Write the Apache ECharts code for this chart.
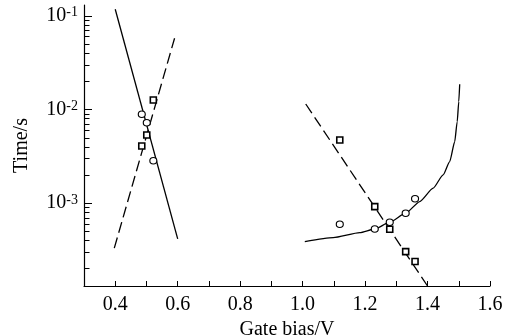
<!DOCTYPE html>
<html>
<head>
<meta charset="utf-8">
<script src="https://cdn.jsdelivr.net/npm/echarts@6/dist/echarts.min.js"></script>
<style>
  html, body { margin: 0; padding: 0; background: #fff; }
  #chart { width: 513px; height: 336px; }
</style>
</head>
<body>
<div id="chart"></div>
<script>
// axis ranges
var xMin = 0.3, xMax = 1.6, xStep = 0.1
var yMin = 1.3e-4, yMax = 0.13

// log axis tick values
var majorTicks = [1e-3, 1e-2, 1e-1]
var minorTicks = [
  2e-4, 3e-4, 4e-4, 5e-4, 6e-4, 7e-4, 8e-4, 9e-4,
  2e-3, 3e-3, 4e-3, 5e-3, 6e-3, 7e-3, 8e-3, 9e-3,
  2e-2, 3e-2, 4e-2, 5e-2, 6e-2, 7e-2, 8e-2, 9e-2
]

// left group (around 0.5 V)
var leftSolidLine = [[0.4, 0.117], [0.6, 4.14e-4]]
var leftDashedLine = [[0.397, 3.3e-4], [0.59, 0.0574]]
var leftCircles = [[0.485, 8.87e-3], [0.501, 7.2e-3], [0.522, 2.83e-3]]
var leftSquares = [[0.522, 0.0126], [0.501, 5.33e-3], [0.485, 4.06e-3]]

// right group (around 1.3 V)
var rightSolidLine = [
  [1.007, 3.87e-4], [1.098, 4.27e-4], [1.183, 4.83e-4], [1.231, 5.28e-4],
  [1.279, 6.24e-4], [1.33, 7.78e-4], [1.375, 1.035e-3], [1.418, 1.44e-3],
  [1.45, 2.0e-3], [1.471, 2.77e-3], [1.487, 4.52e-3], [1.495, 7.4e-3],
  [1.5, 0.0121], [1.503, 0.0185]
]
var rightDashedLine = [[1.01, 0.0114], [1.4, 1.3e-4]]
var rightCircles = [[1.119, 5.94e-4], [1.231, 5.28e-4], [1.279, 6.24e-4], [1.33, 7.78e-4], [1.36, 1.11e-3]]
var rightSquares = [[1.119, 4.71e-3], [1.231, 9.14e-4], [1.279, 5.25e-4], [1.33, 3.03e-4], [1.36, 2.37e-4]]

var font = "Liberation Serif"

function lineSeries(data, dashed, smooth) {
  return {
    type: "line",
    data: data,
    showSymbol: false,
    symbol: "none",
    smooth: smooth || false,
    smoothMonotone: "x",
    clip: false,
    silent: true,
    z: 2,
    lineStyle: { color: "#000", width: 1.3, type: dashed ? [11, 5] : "solid" }
  }
}

function markerSeries(data, shape, size) {
  return {
    type: "scatter",
    data: data,
    symbol: shape,
    symbolSize: size,
    silent: true,
    z: 5,
    itemStyle: { color: "#fff", borderColor: "#000", borderWidth: shape === "rect" ? 1.6 : 1.1, opacity: 1 }
  }
}

var chart = echarts.init(document.getElementById("chart"), null, { renderer: "canvas" })

chart.setOption({
  animation: false,
  backgroundColor: "#fff",
  grid: { left: 84, right: 23, top: 5, bottom: 50, containLabel: false, outerBoundsMode: "none" },
  xAxis: {
    type: "value",
    min: xMin,
    max: xMax,
    interval: xStep,
    name: "Gate bias/V",
    nameLocation: "middle",
    nameGap: 20,
    nameTextStyle: { fontFamily: font, fontSize: 20, color: "#000" },
    axisLine: { show: true, lineStyle: { color: "#000", width: 1.2 } },
    axisTick: { show: true, inside: true, length: 5, lineStyle: { color: "#000", width: 1 } },
    axisLabel: {
      margin: 9,
      fontFamily: font,
      fontSize: 20,
      color: "#000",
      formatter: function (v) {
        return Math.round(v * 10) % 2 === 0 ? v.toFixed(1) : ""
      }
    },
    splitLine: { show: false }
  },
  yAxis: {
    type: "log",
    logBase: 10,
    min: yMin,
    max: yMax,
    name: "Time/s",
    nameLocation: "middle",
    nameGap: 52,
    nameTextStyle: { fontFamily: font, fontSize: 20, color: "#000" },
    axisLine: { show: true, lineStyle: { color: "#000", width: 1.2 } },
    axisTick: { show: false },
    axisLabel: {
      margin: 6,
      color: "#000",
      customValues: majorTicks,
      formatter: function (v) {
        return "{b|10}{s|" + Math.round(Math.log10(v)) + "}"
      },
      rich: {
        b: { fontFamily: font, fontSize: 20, lineHeight: 20, color: "#000" },
        s: { fontFamily: font, fontSize: 14, lineHeight: 14, verticalAlign: "top", color: "#000" }
      }
    },
    splitLine: { show: false }
  },
  series: [
    lineSeries(leftSolidLine, false),
    lineSeries(leftDashedLine, true),
    lineSeries(rightSolidLine, false, 0.2),
    lineSeries(rightDashedLine, true),
    markerSeries(leftCircles, "circle", [7, 6.5]),
    markerSeries(rightCircles, "circle", [7, 6.5]),
    markerSeries(leftSquares, "rect", 6),
    markerSeries(rightSquares, "rect", 6)
  ]
})

// y ticks (decades + 2..9 minors), placed through the axis scale
var axisX = chart.convertToPixel({ xAxisIndex: 0 }, xMin)
function tickLines(values, len) {
  return values.map(function (v) {
    var y = Math.round(chart.convertToPixel({ yAxisIndex: 0 }, v)) + 0.5
    return {
      type: "line",
      silent: true,
      z: 10,
      shape: { x1: axisX, y1: y, x2: axisX + len, y2: y },
      style: { stroke: "#000", lineWidth: 1 }
    }
  })
}

chart.setOption({
  graphic: tickLines(majorTicks, 8).concat(tickLines(minorTicks, 5.5))
})
</script>
</body>
</html>
